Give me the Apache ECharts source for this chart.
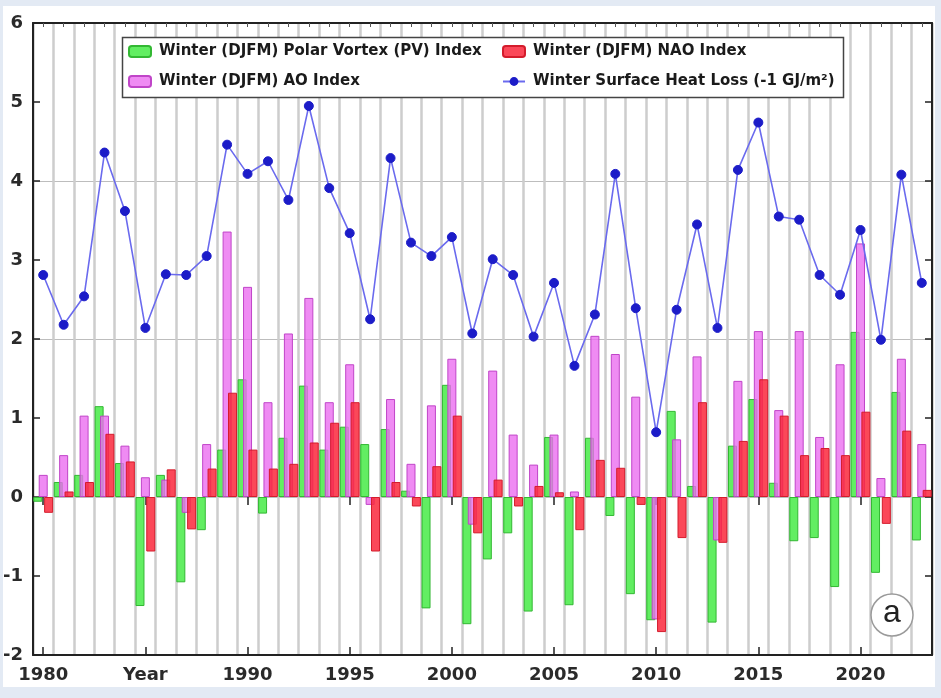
<!DOCTYPE html>
<html>
<head>
<meta charset="utf-8">
<script src="https://cdn.jsdelivr.net/npm/echarts@6/dist/echarts.min.js"></script>
<style>
  html, body { margin: 0; padding: 0; background: #e3eaf4; }
  #card { position: absolute; left: 3px; top: 6px; width: 932px; height: 681px; background: #ffffff; }
  #chart { position: absolute; left: 0; top: 0; width: 941px; height: 698px; }
</style>
</head>
<body>
<div id="card"></div>
<div id="chart"></div>
<script>
// Winter (DJFM) years
const years = [1980, 1981, 1982, 1983, 1984, 1985, 1986, 1987, 1988, 1989,
               1990, 1991, 1992, 1993, 1994, 1995, 1996, 1997, 1998, 1999,
               2000, 2001, 2002, 2003, 2004, 2005, 2006, 2007, 2008, 2009,
               2010, 2011, 2012, 2013, 2014, 2015, 2016, 2017, 2018, 2019,
               2020, 2021, 2022, 2023];

// Polar Vortex (PV) index
const pvIndex = [-0.06, 0.19, 0.28, 1.15, 0.43, -1.38, 0.28, -1.08, -0.42, 0.60,
                 1.49, -0.21, 0.75, 1.41, 0.60, 0.89, 0.67, 0.86, 0.08, -1.41,
                 1.42, -1.61, -0.79, -0.46, -1.45, 0.76, -1.37, 0.75, -0.24, -1.23,
                 -1.56, 1.09, 0.14, -1.59, 0.65, 1.24, 0.18, -0.56, -0.52, -1.14,
                 2.09, -0.96, 1.33, -0.55];

// Arctic Oscillation (AO) index
const aoIndex = [0.28, 0.53, 1.03, 1.03, 0.65, 0.25, 0.22, -0.20, 0.67, 3.36,
                 2.66, 1.20, 2.07, 2.52, 1.20, 1.68, -0.10, 1.24, 0.42, 1.16,
                 1.75, -0.35, 1.60, 0.79, 0.41, 0.79, 0.07, 2.04, 1.81, 1.27,
                 -1.55, 0.73, 1.78, -0.55, 1.47, 2.10, 1.10, 2.10, 0.76, 1.68,
                 3.21, 0.24, 1.75, 0.67];

// North Atlantic Oscillation (NAO) index
const naoIndex = [-0.20, 0.07, 0.19, 0.80, 0.45, -0.69, 0.35, -0.41, 0.36, 1.32,
                  0.60, 0.36, 0.42, 0.69, 0.94, 1.20, -0.69, 0.19, -0.12, 0.39,
                  1.03, -0.46, 0.22, -0.12, 0.14, 0.06, -0.42, 0.47, 0.37, -0.10,
                  -1.71, -0.52, 1.20, -0.58, 0.71, 1.49, 1.03, 0.53, 0.62, 0.53,
                  1.08, -0.34, 0.84, 0.09];

// Winter surface heat loss (-1 GJ/m^2)
const heatLoss = [2.81, 2.18, 2.54, 4.36, 3.62, 2.14, 2.82, 2.81, 3.05, 4.46,
                  4.09, 4.25, 3.76, 4.95, 3.91, 3.34, 2.25, 4.29, 3.22, 3.05,
                  3.29, 2.07, 3.01, 2.81, 2.03, 2.71, 1.66, 2.31, 4.09, 2.39,
                  0.82, 2.37, 3.45, 2.14, 4.14, 4.74, 3.55, 3.51, 2.81, 2.56,
                  3.38, 1.99, 4.08, 2.71];

// Axis tick settings
const yMin = -2, yMax = 6, yStep = 1, yGridStep = 2;
const xLabelStep = 5;
const xLabelOverrides = { 1985: 'Year' };

const names = {
  pv: 'Winter (DJFM) Polar Vortex (PV) Index',
  ao: 'Winter (DJFM) AO Index',
  nao: 'Winter (DJFM) NAO Index',
  heat: 'Winter Surface Heat Loss (-1 GJ/m\u00B2)'
};

const axisColor = '#222222';
const boldFont = 'DejaVu Sans, Verdana, sans-serif';
const tickFont = { fontFamily: boldFont, fontWeight: 'bold', color: '#2a2a2a', fontSize: 18 };
const legendText = { fontFamily: boldFont, fontWeight: 'bold', color: '#1a1a1a', fontSize: 15, padding: [0, 0, 0, 3] };
const cats = years.map(String);
const everyFifth = (i) => i % xLabelStep === 0;

const chart = echarts.init(document.getElementById('chart'), null, { renderer: 'canvas' });

const barBase = { type: 'bar', barWidth: 9, barGap: '-40%', xAxisIndex: 0, yAxisIndex: 0 };

const legendBase = {
  orient: 'vertical', top: 44, itemGap: 15, padding: 0,
  itemWidth: 22, itemHeight: 11,
  textStyle: legendText, selectedMode: false, z: 6
};

chart.setOption({
  animation: false,
  backgroundColor: 'transparent',
  grid: { left: 33, right: 9, top: 23, bottom: 43 },
  legend: [
    Object.assign({ data: [names.pv, names.ao], left: 128 }, legendBase),
    Object.assign({ data: [names.nao, names.heat], left: 502 }, legendBase)
  ],
  xAxis: [
    {
      type: 'category', data: cats, position: 'bottom', boundaryGap: true,
      axisLine: { show: true, onZero: false, lineStyle: { color: axisColor, width: 2 } },
      axisTick: { show: true, inside: true, length: 8, alignWithLabel: true, interval: (i) => everyFifth(i), lineStyle: { color: axisColor, width: 1.5 } },
      axisLabel: Object.assign({
        margin: 11, interval: (i) => everyFifth(i),
        formatter: (v) => xLabelOverrides[v] !== undefined ? xLabelOverrides[v] : v
      }, tickFont),
      splitLine: { show: true, interval: 0, lineStyle: { color: '#cdcdcd', width: 2.5 } }
    },
    {
      type: 'category', data: cats, position: 'top', boundaryGap: true,
      axisLine: { show: true, onZero: false, lineStyle: { color: axisColor, width: 2 } },
      axisTick: { show: true, inside: true, length: 4, alignWithLabel: true, interval: 0, lineStyle: { color: '#555', width: 1 } },
      axisLabel: { show: false }, splitLine: { show: false }
    },
    {
      type: 'category', data: cats, position: 'top', boundaryGap: true,
      axisLine: { show: false },
      axisTick: { show: true, inside: true, length: 8, alignWithLabel: true, interval: (i) => everyFifth(i), lineStyle: { color: axisColor, width: 1.5 } },
      axisLabel: { show: false }, splitLine: { show: false }
    }
  ],
  yAxis: [
    {
      type: 'value', min: yMin, max: yMax, interval: yStep, position: 'left',
      axisLine: { show: true, lineStyle: { color: axisColor, width: 2 } },
      axisTick: { show: true, inside: true, length: 7, lineStyle: { color: axisColor, width: 1.5 } },
      axisLabel: Object.assign({ margin: 10 }, tickFont),
      splitLine: { show: false }
    },
    {
      type: 'value', min: yMin, max: yMax, interval: yStep, position: 'right',
      axisLine: { show: true, lineStyle: { color: axisColor, width: 2 } },
      axisTick: { show: true, inside: true, length: 7, lineStyle: { color: axisColor, width: 1.5 } },
      axisLabel: { show: false },
      splitLine: { show: false }
    },
    {
      type: 'value', min: yMin, max: yMax, interval: yGridStep, position: 'left',
      axisLine: { show: false }, axisTick: { show: false }, axisLabel: { show: false },
      splitLine: { show: true, lineStyle: { color: '#bdbdbd', width: 1 } }
    }
  ],
  graphic: [
    {
      type: 'rect', z: 5,
      shape: { x: 122.5, y: 37.5, width: 721, height: 60 },
      style: { fill: '#ffffff', stroke: '#444444', lineWidth: 1.5 }
    },
    {
      type: 'circle', z: 5,
      shape: { cx: 892, cy: 615, r: 21 },
      style: { fill: '#ffffff', stroke: '#9a9a9a', lineWidth: 1.5 }
    },
    {
      type: 'text', z: 6, x: 892, y: 613,
      style: { text: 'a', fontSize: 32, fontFamily: 'Liberation Sans, Arial, sans-serif', fill: '#222', align: 'center', verticalAlign: 'middle' }
    }
  ],
  series: [
    Object.assign({}, barBase, {
      name: names.pv, data: pvIndex,
      itemStyle: { color: 'rgba(70,235,70,0.85)', borderColor: '#33b833', borderWidth: 1 }
    }),
    Object.assign({}, barBase, {
      name: names.ao, data: aoIndex,
      itemStyle: { color: 'rgba(235,110,240,0.8)', borderColor: '#c045c8', borderWidth: 1 }
    }),
    Object.assign({}, barBase, {
      name: names.nao, data: naoIndex,
      itemStyle: { color: 'rgba(250,40,60,0.85)', borderColor: '#d41c2c', borderWidth: 1 }
    }),
    {
      type: 'line', name: names.heat, data: heatLoss, xAxisIndex: 0, yAxisIndex: 0,
      symbol: 'circle', symbolSize: 9,
      lineStyle: { color: '#6a6aee', width: 1.6 },
      itemStyle: { color: '#1c1cc8', borderColor: '#1c1cc8' },
      z: 4
    }
  ]
});
</script>
</body>
</html>
